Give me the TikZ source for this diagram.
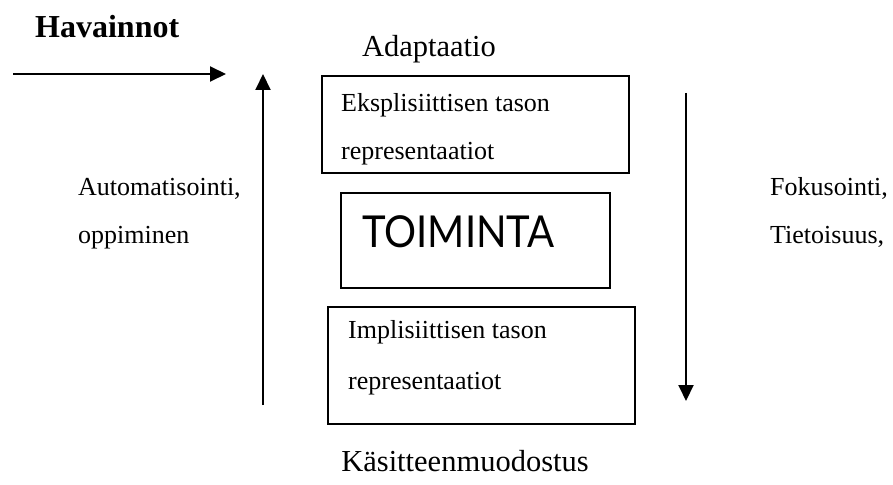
\documentclass[tikz,border=0pt]{standalone}
\usepackage{fontspec}
\setmainfont{Liberation Serif}
\newfontfamily\actfont[FakeStretch=0.91]{Lato}
\usetikzlibrary{arrows.meta}
\tikzset{
  frame/.style={draw, line width=1.6pt, inner sep=0pt, anchor=north west},
  txt/.style={inner sep=0pt, anchor=base west, font=\fontsize{26}{26}\selectfont},
  bigtxt/.style={inner sep=0pt, anchor=base, font=\fontsize{30.5}{30.5}\selectfont},
  flow/.style={line width=2pt, -{Triangle[length=16pt,width=15pt]}},
}
\begin{document}
\begin{tikzpicture}[x=1pt,y=-1pt]
\useasboundingbox (0,0) rectangle (893,484);

% boxes
\node[frame, minimum width=307pt, minimum height=97pt] (expl) at (321,75) {};
\node[frame, minimum width=269pt, minimum height=95pt] (act) at (340,192) {};
\node[frame, minimum width=307pt, minimum height=117pt] (impl) at (327,306) {};

% box texts
\begin{scope}
  \clip (expl.north west) rectangle ([yshift=4pt]expl.south east);
  \node[txt] (explA) at (341,112) {Eksplisiittisen tason};
  \node[txt] (explB) at (341,159) {representaatiot};
\end{scope}
\node[inner sep=0pt, anchor=base west, font=\actfont\fontsize{44}{44}\selectfont] (actT) at (362,247) {TOIMINTA};
\node[txt] (implA) at (348,338) {Implisiittisen tason};
\node[txt] (implB) at (348,389) {representaatiot};

% free labels
\node[inner sep=0pt, anchor=base west, font=\bfseries\fontsize{32}{32}\selectfont] (obs) at (35,38) {Havainnot};
\node[bigtxt] (adapt) at (429,57) {Adaptaatio};
\node[bigtxt] (concept) at (465,471) {Käsitteenmuodostus};
\node[txt] (autoA) at (78,195) {Automatisointi,};
\node[txt] (autoB) at (78,243) {oppiminen};
\node[txt] (focA) at (770,195) {Fokusointi,};
\node[txt] (focB) at (770,243) {Tietoisuus,};

% arrows
\coordinate (obsS) at (13,74);
\coordinate (obsE) at (226,74);
\coordinate (upS) at (263,405);
\coordinate (upE) at (263,74);
\coordinate (downS) at (686,93);
\coordinate (downE) at (686,401);
\draw[flow] (obsS) -- (obsE);
\draw[flow] (upS) -- (upE);
\draw[flow] (downS) -- (downE);
\end{tikzpicture}
\end{document}
